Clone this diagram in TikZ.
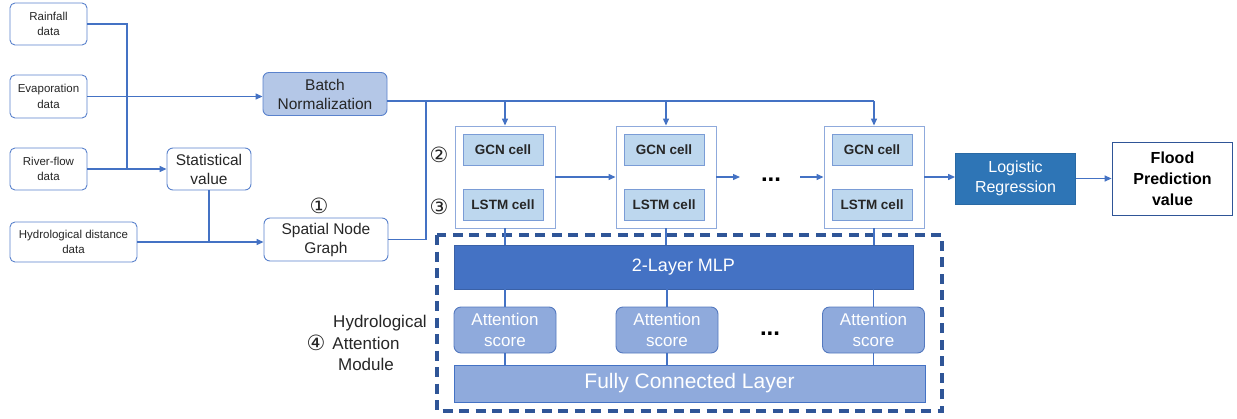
\documentclass[tikz,border=0pt]{standalone}
\usepackage{fontspec}
\setmainfont{Liberation Sans}
\newfontfamily\symfont{DejaVu Sans}
\usetikzlibrary{arrows.meta}

\definecolor{linkblue}{HTML}{4472C4}
\definecolor{boxblue}{HTML}{5A82CC}
\definecolor{bnfill}{HTML}{B4C7E7}
\definecolor{cellline}{HTML}{8FAADC}
\definecolor{subfill}{HTML}{BDD7EE}
\definecolor{subline}{HTML}{7A9CD6}
\definecolor{lrfill}{HTML}{2E75B6}
\definecolor{darkblue}{HTML}{2F5597}
\definecolor{mlpfill}{HTML}{4472C4}
\definecolor{attfill}{HTML}{8FAADC}
\definecolor{attline}{HTML}{5479BF}
\definecolor{txt}{HTML}{262626}

\tikzset{
  link/.style={draw=linkblue, line width=1.3pt},
  arr/.style={link, -{Triangle[length=7pt,width=6pt]}},
  inbox/.style={draw=boxblue, line width=0.9pt, rounded corners=5pt, fill=white,
    align=center, inner sep=0pt, text=txt, font=\fontsize{11.5}{15.5}\selectfont},
  midbox/.style={draw=boxblue, line width=0.9pt, rounded corners=6pt, fill=white,
    align=center, inner sep=0pt, text=txt, font=\fontsize{15.5}{19}\selectfont},
  cellbox/.style={draw=cellline, line width=0.9pt, fill=white,
    minimum width=100pt, minimum height=102pt},
  subbox/.style={draw=subline, line width=0.9pt, fill=subfill, inner sep=0pt,
    minimum width=80pt, minimum height=31pt, text=txt,
    font=\fontsize{13.5}{16}\selectfont\bfseries},
  attbox/.style={draw=attline, line width=0.9pt, fill=attfill, rounded corners=7pt,
    minimum width=102pt, minimum height=46pt, inner sep=0pt, align=center,
    text=white, font=\fontsize{17}{21}\selectfont},
  circnum/.style={inner sep=0pt, text=txt, font=\symfont\fontsize{21}{21}\selectfont},
  dotsnode/.style={anchor=base, inner sep=0pt, text=black,
    font=\fontsize{24}{24}\selectfont\bfseries},
  vlink/.style={draw=linkblue, line width=1.1pt},
}

\begin{document}
\begin{tikzpicture}[x=1pt, y=-1pt]
\useasboundingbox (0,0) rectangle (1237,418);

% ---- input data ----
\node[inbox, minimum width=77pt, minimum height=42pt] (rain)  at (48.5,24)   {Rainfall\\data};
\node[inbox, minimum width=77pt, minimum height=43pt] (evap)  at (48.5,96.5) {Evaporation\\data};
\node[inbox, minimum width=77pt, minimum height=42pt] (river) at (48.5,169)  {River-flow\\data};
\node[inbox, minimum width=127pt, minimum height=40pt] (hdist) at (73.5,242) {Hydrological distance\\data};

\node[midbox, minimum width=84pt, minimum height=42pt] (stat) at (209,169) {Statistical\\value};
\node[midbox, fill=bnfill, minimum width=124pt, minimum height=43pt] (bn) at (325,94) {Batch\\Normalization};
\node[midbox, minimum width=124pt, minimum height=43pt] (sng) at (326,239.5) {Spatial Node\\Graph};
\node[circnum] (n1) at (319,206) {①};

% ---- input connectors ----
\coordinate (jr) at (127,169);
\draw[link] (rain.east) -| (jr);
\draw[arr] (river.east) -- (stat.west);
\draw[arr] (evap.east) -- (evap.east -| bn.west);
\draw[arr] (hdist.east) -- (hdist.east -| sng.west);
\draw[link] (stat.south) -- (stat.south |- hdist.east);

% ---- recurrent cells ----
\node[cellbox] (c1) at (505,177) {};
\node[cellbox] (c2) at (666,177) {};
\node[cellbox] (c3) at (874,177) {};
\node[subbox] (g1) at (503,150)   {GCN cell};
\node[subbox] (l1) at (503,204.5) {LSTM cell};
\node[subbox] (g2) at (664,150)   {GCN cell};
\node[subbox] (l2) at (664,204.5) {LSTM cell};
\node[subbox] (g3) at (872,150)   {GCN cell};
\node[subbox] (l3) at (872,204.5) {LSTM cell};
\node[circnum] (n2) at (439,155) {②};
\node[circnum] (n3) at (439,207) {③};

% ---- input bus ----
\coordinate (busL) at (426,101);
\coordinate (busR) at (c3.north |- busL);
\draw[link] (bn.east |- busL) -- (busR);
\draw[link] (sng.east) -| (busL);
\draw[arr] (c1.north |- busL) -- (c1.north);
\draw[arr] (c2.north |- busL) -- (c2.north);
\draw[arr] (busR) -- (c3.north);

% ---- chain ----
\coordinate (d1) at (740,177);
\coordinate (d2) at (800,177);
\draw[arr] (c1.east) -- (c2.west);
\draw[arr] (c2.east) -- (d1);
\node[dotsnode] (dt1) at (771,181) {...};
\draw[arr] (d2) -- (c3.west);

% ---- output ----
\node[draw=lrfill!90!black, line width=0.9pt, fill=lrfill, minimum width=120pt, minimum height=51pt,
      inner sep=0pt, align=center, text=white, font=\fontsize{16}{20.5}\selectfont] (lr) at (1015.5,178.5) {Logistic\\Regression};
\node[draw=darkblue, line width=1.8pt, fill=white, minimum width=120pt, minimum height=73pt,
      inner sep=0pt, align=center, text=black, font=\fontsize{16}{21}\selectfont\bfseries] (fl) at (1172.5,179) {Flood\\Prediction\\value};
\draw[arr] (c3.east) -- (c3.east -| lr.west);
\draw[arr] (lr.east) -- (lr.east -| fl.west);

% ---- hydrological attention module ----
\draw[draw=darkblue, line width=3.2pt, dash pattern=on 10pt off 6.5pt] (437,235) rectangle (942,411);
\node[draw=mlpfill!85!black, line width=0.9pt, fill=mlpfill, minimum width=459pt, minimum height=44pt,
      inner sep=0pt, text=white, font=\fontsize{18}{22}\selectfont] (mlp) at (683.5,267) {2-Layer MLP};
\node[attbox] (a1) at (505,330) {Attention\\score};
\node[attbox] (a2) at (667,330) {Attention\\score};
\node[attbox] (a3) at (873.5,330) {Attention\\score};
\node[dotsnode] (dt2) at (770,335) {...};
\node[draw=linkblue, line width=0.9pt, fill=attfill, minimum width=471pt, minimum height=37pt,
      inner sep=0pt, text=white, font=\fontsize{21}{24}\selectfont] (fc) at (689.5,383.5) {Fully Connected Layer};

\draw[vlink] (c1.south) -- (c1.south |- mlp.north);
\draw[vlink] (c2.south) -- (c2.south |- mlp.north);
\draw[vlink] (c3.south) -- (c3.south |- mlp.north);
\draw[vlink] (a1.north |- mlp.south) -- (a1.north);
\draw[vlink] (a2.north |- mlp.south) -- (a2.north);
\draw[vlink] (a3.north |- mlp.south) -- (a3.north);
\draw[vlink] (a1.south) -- (a1.south |- fc.north);
\draw[vlink] (a2.south) -- (a2.south |- fc.north);
\draw[vlink] (a3.south) -- (a3.south |- fc.north);

\node[align=center, inner sep=0pt, text=txt, font=\fontsize{17}{21.5}\selectfont] (hamlabel) at (366,343)
  {\hspace*{28pt}Hydrological\\Attention\\Module};
\node[circnum] (n4) at (316,343) {④};
\end{tikzpicture}
\end{document}
